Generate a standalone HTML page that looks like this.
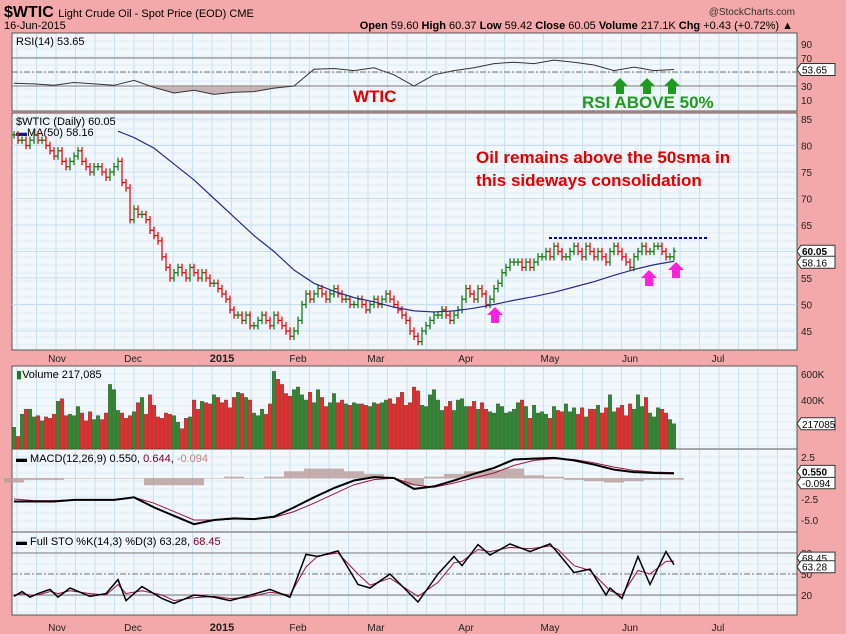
<!DOCTYPE html>
<html><head><meta charset="utf-8">
<style>
body{margin:0;background:#f3a9a9;}
svg{display:block;font-family:"Liberation Sans",sans-serif;}
</style></head>
<body>
<svg id="c" width="846" height="634" viewBox="0 0 846 634" xmlns="http://www.w3.org/2000/svg">
<rect x="0" y="0" width="846" height="634" fill="#f3a9a9"/>
<text x="4" y="17" font-size="16" font-weight="bold" fill="#000">$WTIC <tspan font-size="11" font-weight="normal">Light Crude Oil - Spot Price (EOD) CME</tspan></text>
<text x="4" y="29" font-size="11" fill="#000">16-Jun-2015</text>
<text x="795" y="15" font-size="10" text-anchor="end" fill="#333">@StockCharts.com</text>
<text x="793" y="29" font-size="11" text-anchor="end" fill="#000"><tspan font-weight="bold">Open</tspan> 59.60 <tspan font-weight="bold">High</tspan> 60.37 <tspan font-weight="bold">Low</tspan> 59.42 <tspan font-weight="bold">Close</tspan> 60.05 <tspan font-weight="bold">Volume</tspan> 217.1K <tspan font-weight="bold">Chg</tspan> +0.43 (+0.72%) ▲</text>
<g id="panels"></g>
<g id="marks"></g>
<g id="anno">
<text x="353" y="102" font-size="17" font-weight="bold" fill="#e00000">WTIC</text>
<text x="582" y="108" font-size="17" font-weight="bold" fill="#1f9a1f">RSI ABOVE 50%</text>
<text x="476" y="163" font-size="17" font-weight="bold" fill="#e00000">Oil remains above the 50sma in</text>
<text x="476" y="186" font-size="17" font-weight="bold" fill="#e00000">this sideways consolidation</text>
<line x1="549" y1="238" x2="708" y2="238" stroke="#0000cc" stroke-width="2" stroke-dasharray="3,2"/>
</g>
</svg>
<script>
// ---- data ----
const closes=[82,81,81,80,81,82,81,81,80,79,
78,79,77,76,77,78,79,77,76,75,
76,76,75,74,75,76,77,73,72,66,
68,67,67,66,64,63,62,59,57,55,
56,57,56,55,57,56,55,56,55,54,
54,53,52,51,49,48,48,47,48,46,
46,47,48,47,46,48,47,46,45,44,
45,47,50,52,51,52,53,52,51,52,
53,52,51,51,50,50,51,50,49,50,
51,50,51,52,51,50,49,48,47,45,
44,43,45,46,47,48,48,49,48,47,
48,49,51,53,52,51,53,52,50,51,
53,54,56,57,58,58,58,57,58,57,
58,59,59,60,59,61,60,59,59,60,
61,60,59,61,60,59,60,59,58,60,
61,60,59,58,57,59,60,61,60,60,
61,61,60,59,59,60.05];
const volumes=[190,120,290,330,330,270,280,240,270,260,
290,390,410,280,290,280,350,300,240,310,
250,280,250,300,520,480,320,300,260,280,
310,380,420,290,440,360,270,260,300,290,
280,230,180,260,270,400,330,390,380,370,
440,420,380,400,340,420,460,450,420,400,
300,280,330,290,370,620,560,520,450,430,
480,500,440,400,460,380,480,420,350,380,
450,380,400,370,360,380,370,370,360,350,
380,370,380,400,410,370,420,460,360,380,
500,470,360,350,440,480,400,320,350,390,
320,400,410,350,350,390,330,380,330,310,
300,370,350,300,310,330,380,400,350,260,
360,300,310,290,260,350,320,310,370,310,
340,290,340,270,330,330,360,300,340,440,
310,340,360,280,370,330,440,350,420,300,
270,340,330,300,250,217];
const maIdx=[26,30,35,40,45,50,55,60,65,70,75,80,85,90,95,100,105,110,115,120,125,130,135,140,145,150,155,160,165];
const maVals=[82.7,81.5,79.5,76.5,73.5,70,66.5,63,60,56.5,54,52.5,51.3,50.5,49.5,48.8,48.6,48.8,49.3,50,50.8,51.5,52.3,53.3,54.3,55.5,56.6,57.5,58.16];
const indIdx=[0,5,10,15,20,25,30,35,40,45,50,55,60,65,70,75,80,85,90,95,100,105,110,115,120,125,130,135,140,145,150,155,160,165];
const rsiVals=[34,33,31,35,33,31,38,28,20,24,18,21,22,27,30,54,55,52,56,46,30,46,52,56,62,64,62,67,64,60,52,57,52,53.65];
const macdVals=[-2.8,-2.8,-2.8,-2.6,-2.6,-2.6,-2.3,-3.5,-4.5,-5.5,-5.0,-4.8,-4.9,-4.6,-3.5,-2.3,-1.2,-0.3,0.1,0,-1.3,-1.0,-0.3,0.5,1.2,2.2,2.3,2.4,2.1,1.6,1.0,0.7,0.6,0.55];
const signalVals=[-2.5,-2.7,-2.7,-2.6,-2.6,-2.6,-2.3,-3.0,-4.0,-5.0,-5.0,-4.9,-4.9,-4.7,-4.0,-3.0,-1.9,-0.8,-0.2,0,-0.8,-1.1,-0.6,0,0.6,1.5,2.1,2.3,2.2,1.8,1.3,0.9,0.7,0.644];
const stoIdx=[0,2,4,6,9,11,14,19,23,26,28,32,37,40,45,50,54,58,64,69,73,76,81,86,89,94,101,106,110,112,116,119,124,129,134,136,140,144,148,149,152,156,159,163,165];
const stoK=[18,25,17,22,28,17,30,18,22,42,12,32,15,8,20,17,12,18,28,17,78,75,83,35,30,50,10,50,75,62,92,77,93,82,93,80,52,57,20,30,15,75,35,82,63.28];
const stoD=[20,22,20,20,25,22,26,22,20,35,22,26,20,12,16,18,15,16,24,20,60,76,80,50,34,44,18,38,66,68,85,82,88,86,90,85,62,55,32,26,20,55,50,68,68.45];
const months=["Nov","Dec","2015","Feb","Mar","Apr","May","Jun","Jul"];
const monthX=[57,133,222,298,376,466,550,630,718];
const rsiTicks=[90,70,30,10];
const priceTicks=[85,80,75,70,65,60,55,50,45];
const volTicks=[600,400];
const macdTicks=[2.5,-2.5,-5.0];
const stoTicks=[80,50,20];
// ---- axes ----
const L=12,R=797;
const xb=i=>14+i*4;
const yRsi=v=>86-(v-30)*0.7;
const yPrice=p=>331-(p-45)*5.3;
const yVol=v=>452-v*0.13;
const yMacd=m=>478-m*8.4;
const ySto=v=>595-(v-20)*0.7;
const NS="http://www.w3.org/2000/svg";
function mk(tag,attrs,parent){const e=document.createElementNS(NS,tag);for(const k in attrs)e.setAttribute(k,attrs[k]);parent.appendChild(e);return e;}
const P=document.getElementById('panels'),M=document.getElementById('marks');
const panels=[[33,111,'rsi-panel'],[113,350,'price-panel'],[366,449,'volume-panel'],[449,532,'macd-panel'],[532,615,'stochastic-panel']];
panels.forEach(p=>{
 const r=mk('rect',{x:L,y:p[0],width:R-L,height:p[1]-p[0],fill:'#f2f7fb',stroke:'#555','stroke-width':1},P);
 
 
 for(let x=17;x<R;x+=19.5){mk('line',{x1:x,x2:x,y1:p[0]+1,y2:p[1]-1,stroke:'#c6dfee','stroke-width':1},P);}
 for(let y=p[0]+8;y<p[1];y+=8){mk('line',{x1:L+1,x2:R-1,y1:y,y2:y,stroke:'#dcebf4','stroke-width':1},P);}
});
function tickLabel(y,t,name){const e=mk('text',{x:801,y:y+4,'font-size':10,fill:'#222'},P);e.textContent=t;
 
 }
rsiTicks.forEach(v=>{tickLabel(yRsi(v),v,'rsi-tick');if(v==70||v==30)mk('line',{x1:L,x2:R,y1:yRsi(v),y2:yRsi(v),stroke:'#777'},P);});
mk('line',{x1:L,x2:R,y1:yRsi(50),y2:yRsi(50),stroke:'#777','stroke-dasharray':'6,2,2,2'},P);
priceTicks.forEach(v=>{tickLabel(yPrice(v),v,'price-tick');mk('line',{x1:L,x2:R,y1:yPrice(v),y2:yPrice(v),stroke:'#c6dfee'},P);});
volTicks.forEach(v=>tickLabel(yVol(v),v+'K','volume-tick'));
macdTicks.forEach(v=>tickLabel(yMacd(v),v.toFixed(1),'macd-tick'));
stoTicks.forEach(v=>{tickLabel(ySto(v),v,'stochastic-tick');mk('line',{x1:L,x2:R,y1:ySto(v),y2:ySto(v),stroke:'#777','stroke-dasharray':v==50?'6,2,2,2':'none'},P);});
[[358,'x-axis-top'],[627,'x-axis-bottom']].forEach(a=>{months.forEach((m,k)=>{const e=mk('text',{x:monthX[k],y:a[0]+4,'font-size':m=='2015'?11:10,'font-weight':m=='2015'?'bold':'normal','text-anchor':'middle',fill:'#222'},P);e.textContent=m;
 
 });});
function leg(x,y,t,name){const e=mk('text',{x:x,y:y,'font-size':11,fill:'#000'},P);e.innerHTML=t;
 
 }
leg(16,45,'RSI(14) 53.65','rsi-legend');
leg(16,125,'$WTIC (Daily) 60.05','price-legend');
leg(16,136,'<tspan fill="#1a1a80">▬</tspan>MA(50) 58.16','ma-legend');
leg(16,378,'<tspan fill="#1a7a1a">▮</tspan>Volume 217,085','volume-legend');
leg(16,462,'▬ MACD(12,26,9) 0.550, <tspan fill="#800030">0.644</tspan>, <tspan fill="#c08080">-0.094</tspan>','macd-legend');
leg(16,545,'▬ Full STO %K(14,3) %D(3) 63.28, <tspan fill="#800030">68.45</tspan>','stochastic-legend');
function vbox(y,t,bold,name){const g=mk('g',{},M);
 mk('path',{d:`M797 ${y} l4 -6 h34 v12 h-34 z`,fill:'#fff',stroke:'#333'},g);
 const e=mk('text',{x:802,y:y+4,'font-size':10,'font-weight':bold?'bold':'normal',fill:'#000'},g);e.textContent=t;}
// RSI
const rsiFill=mk('path',{d:'M'+indIdx.map((i,k)=>xb(i)+','+Math.max(yRsi(rsiVals[k]),yRsi(30))).join('L')+`L${xb(165)},${yRsi(30)}L${xb(0)},${yRsi(30)}Z`,fill:'#b89a9a',opacity:0.7},M);


const rsiLine=mk('polyline',{points:indIdx.map((i,k)=>xb(i)+','+yRsi(rsiVals[k])).join(' '),fill:'none',stroke:'#333','stroke-width':1},M);


// price bars
closes.forEach((c,i)=>{
 const o=i?closes[i-1]:c;const up=c>=o;const col=up?'#1a7a1a':'#dd1111';
 const hi=Math.max(o,c)+0.7,lo=Math.min(o,c)-0.7;const x=xb(i);
 const g=mk('g',{stroke:col,'stroke-width':1.3},M);
 
 
 mk('line',{x1:x,x2:x,y1:yPrice(hi),y2:yPrice(lo)},g);
 mk('line',{x1:x-2,x2:x,y1:yPrice(o),y2:yPrice(o)},g);
 mk('line',{x1:x,x2:x+2,y1:yPrice(c),y2:yPrice(c)},g);
});
const ma=mk('polyline',{points:maIdx.map((i,k)=>xb(i)+','+yPrice(maVals[k])).join(' '),fill:'none',stroke:'#2a2a8a','stroke-width':1.2},M);


// volume
volumes.forEach((v,i)=>{const up=i==0||closes[i]>=closes[i-1];
 const r=mk('rect',{x:xb(i)-1.8,y:Math.max(yVol(v),367),width:3.6,height:449-Math.max(yVol(v),367),fill:up?'#2e8b2e':'#ee2a2a',stroke:'#333','stroke-width':0.3},M);
 
 });
// MACD histogram
indIdx.forEach((i,k)=>{const h=(macdVals[k]-signalVals[k])*1.6;const y0=yMacd(0),y1=y0-h*8.4;
 const r=mk('rect',{x:xb(i)-10,y:Math.min(y0,y1),width:20,height:Math.abs(y1-y0)+0.5,fill:'#b89a9a',opacity:0.8},M);
 
 });
const sig=mk('polyline',{points:indIdx.map((i,k)=>xb(i)+','+yMacd(signalVals[k])).join(' '),fill:'none',stroke:'#a01040','stroke-width':1},M);


const mac=mk('polyline',{points:indIdx.map((i,k)=>xb(i)+','+yMacd(macdVals[k])).join(' '),fill:'none',stroke:'#000','stroke-width':2},M);


// STO
const sd=mk('polyline',{points:stoIdx.map((i,k)=>xb(i)+','+ySto(stoD[k])).join(' '),fill:'none',stroke:'#a01040','stroke-width':1},M);


const sk=mk('polyline',{points:stoIdx.map((i,k)=>xb(i)+','+ySto(stoK[k])).join(' '),fill:'none',stroke:'#000','stroke-width':1.5},M);


vbox(yRsi(53.65),'53.65',false,'rsi-value-box');
vbox(yPrice(60.05),'60.05',true,'price-value-box');
vbox(yPrice(58.16)+1,'58.16',false,'ma-value-box');
vbox(yVol(217),'217085',false,'volume-value-box');
vbox(yMacd(-0.094)+4,'-0.094',false,'histogram-value-box');
vbox(yMacd(0.55)-2,'0.550',true,'macd-value-box');
vbox(ySto(68.45)-3,'68.45',false,'stochastic-d-value-box');
vbox(ySto(63.28)+2,'63.28',false,'stochastic-k-value-box');
function arrow(x,ytop,col,name){const g=mk('path',{d:`M${x} ${ytop} l8 8 h-4 v8 h-8 v-8 h-4 z`,fill:col},M);
 
 }
arrow(620,78,'#1f9a1f','rsi-green-arrow');
arrow(647,78,'#1f9a1f','rsi-green-arrow');
arrow(672,78,'#1f9a1f','rsi-green-arrow');
arrow(495,307,'#ff22dd','support-pink-arrow');
arrow(649,270,'#ff22dd','support-pink-arrow');
arrow(676,262,'#ff22dd','support-pink-arrow');
</script>
</body></html>
